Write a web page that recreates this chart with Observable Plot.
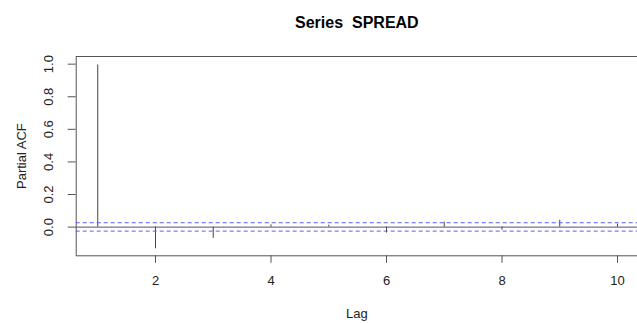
<!DOCTYPE html>
<html>
<head>
<meta charset="utf-8">
<script src="https://cdn.jsdelivr.net/npm/d3@7"></script>
<script src="https://cdn.jsdelivr.net/npm/@observablehq/plot@0.6"></script>
<style>
  html, body { margin: 0; padding: 0; background: #fff; }
</style>
</head>
<body>
<div id="chart"></div>
<script>
const titleText = "Series  SPREAD";
const xLabel = "Lag";
const yLabel = "Partial ACF";
const lags = [1, 2, 3, 4, 5, 6, 7, 8, 9, 10];
const pacf = [0.995, -0.133, -0.069, 0.014, 0.012, -0.036, 0.030, -0.019, 0.042, 0.018];
const ciUpper = 0.027;
const ciLower = -0.027;
const xTicks = [2, 4, 6, 8, 10];
const yTicks = [0.0, 0.2, 0.4, 0.6, 0.8, 1.0];

const data = lags.map((lag, i) => ({lag, value: pacf[i]}));
const axisColor = "#555";
const ciColor = "#5b5bff";
const fmt = d3.format(".1f");

const chart = Plot.plot({
  width: 637,
  height: 323,
  marginTop: 56,
  marginBottom: 67.7,
  marginLeft: 75.7,
  marginRight: 0,
  style: {fontFamily: "'Liberation Sans', Arial, sans-serif", fontSize: "13px", background: "white", color: "#222"},
  x: {domain: [0.627, 10.346], axis: null},
  y: {domain: [-0.176, 1.047], axis: null},
  marks: [
    Plot.frame({stroke: axisColor}),
    Plot.ruleY([0], {stroke: axisColor}),
    Plot.ruleX(data, {x: "lag", y1: 0, y2: "value", stroke: "#444"}),
    Plot.ruleY([ciUpper], {stroke: ciColor, strokeDasharray: "4,3"}),
    Plot.ruleY([ciLower], {stroke: ciColor, strokeDasharray: "4,3", dy: -0.4}),
    Plot.axisX({ticks: xTicks, tickSize: 7.5, tickPadding: 12.5, fontSize: 13, label: null, stroke: axisColor, color: "#222"}),
    Plot.axisY({ticks: yTicks, tickSize: 8, tickFormat: () => "", label: null, stroke: axisColor}),
    Plot.text(yTicks, {y: d => d, text: d => fmt(d), frameAnchor: "left", dx: -22.7, rotate: -90, textAnchor: "middle", lineAnchor: "bottom", fontSize: 13, fill: "#222"}),
    Plot.text([yLabel], {frameAnchor: "left", dx: -50.5, rotate: -90, textAnchor: "middle", lineAnchor: "bottom", fontSize: 13, fill: "#222"}),
    Plot.text([xLabel], {frameAnchor: "bottom", dy: 61.7, lineAnchor: "bottom", fontSize: 13, fill: "#222"}),
    Plot.text([titleText], {frameAnchor: "top", dy: -28.5, lineAnchor: "bottom", fontSize: 16, fontWeight: "bold", fill: "#000"})
  ]
});
document.getElementById("chart").appendChild(chart);
</script>
</body>
</html>
